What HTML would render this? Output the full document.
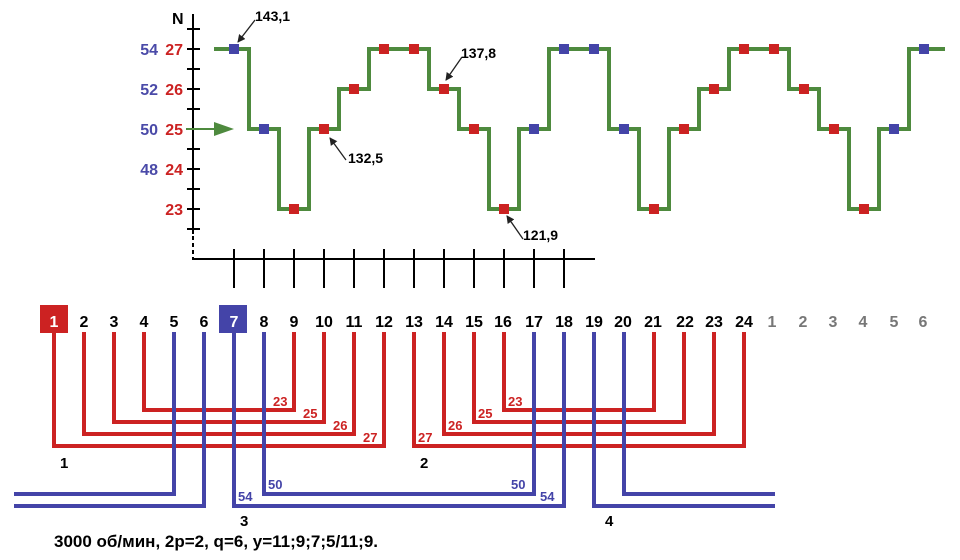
<!DOCTYPE html>
<html><head><meta charset="utf-8"><style>
html,body{margin:0;padding:0;background:#fff;}
svg{display:block;}
text{font-family:"Liberation Sans",Arial,sans-serif;font-weight:bold;}
</style></head><body>
<svg width="960" height="560" viewBox="0 0 960 560" xmlns="http://www.w3.org/2000/svg">
<defs>
<marker id="ah" markerWidth="8" markerHeight="8" refX="7" refY="4" orient="auto" markerUnits="userSpaceOnUse"><path d="M0,0 L8,4 L0,8 Z" fill="#222"/></marker>
</defs>
<!-- axes -->
<g stroke="#000" stroke-width="2" fill="none">
<line x1="193" y1="14" x2="193" y2="234"/>
<line x1="193" y1="236" x2="193" y2="259" stroke-dasharray="4,3"/>
<line x1="192" y1="259" x2="595" y2="259"/>
<path d="M187,29h13M187,49h13M187,69h13M187,89h13M187,109h13M187,129h13M187,149h13M187,169h13M187,189h13M187,209h13M187,229h13"/>
<path d="M234,249v39M264,249v39M294,249v39M324,249v39M354,249v39M384,249v39M414,249v39M444,249v39M474,249v39M504,249v39M534,249v39M564,249v39"/>
</g>
<text x="172" y="24" font-size="16">N</text>
<g font-size="16" text-anchor="end">
<text x="158" y="55" fill="#4a4aa8">54</text><text x="183" y="55" fill="#cc2222">27</text>
<text x="158" y="95" fill="#4a4aa8">52</text><text x="183" y="95" fill="#cc2222">26</text>
<text x="158" y="135" fill="#4a4aa8">50</text><text x="183" y="135" fill="#cc2222">25</text>
<text x="158" y="175" fill="#4a4aa8">48</text><text x="183" y="175" fill="#cc2222">24</text>
<text x="183" y="215" fill="#cc2222">23</text>
</g>
<!-- green arrow -->
<line x1="186" y1="129" x2="218" y2="129" stroke="#4e8a3e" stroke-width="2"/>
<path d="M214,122 L234,129 L214,136 Z" fill="#4e8a3e"/>
<!-- step wave -->
<path fill="none" stroke="#4e8a3e" stroke-width="4" d="M214,49 H249 V129 H279 V209 H309 V129 H339 V89 H369 V49 H429 V89 H459 V129 H489 V209 H519 V129 H549 V49 H609 V129 H639 V209 H669 V129 H699 V89 H729 V49 H789 V89 H819 V129 H849 V209 H879 V129 H909 V49 H945"/>
<g>
<rect x="229" y="44" width="10" height="10" fill="#4444a8"/>
<rect x="259" y="124" width="10" height="10" fill="#4444a8"/>
<rect x="289" y="204" width="10" height="10" fill="#cc2222"/>
<rect x="319" y="124" width="10" height="10" fill="#cc2222"/>
<rect x="349" y="84" width="10" height="10" fill="#cc2222"/>
<rect x="379" y="44" width="10" height="10" fill="#cc2222"/>
<rect x="409" y="44" width="10" height="10" fill="#cc2222"/>
<rect x="439" y="84" width="10" height="10" fill="#cc2222"/>
<rect x="469" y="124" width="10" height="10" fill="#cc2222"/>
<rect x="499" y="204" width="10" height="10" fill="#cc2222"/>
<rect x="529" y="124" width="10" height="10" fill="#4444a8"/>
<rect x="559" y="44" width="10" height="10" fill="#4444a8"/>
<rect x="589" y="44" width="10" height="10" fill="#4444a8"/>
<rect x="619" y="124" width="10" height="10" fill="#4444a8"/>
<rect x="649" y="204" width="10" height="10" fill="#cc2222"/>
<rect x="679" y="124" width="10" height="10" fill="#cc2222"/>
<rect x="709" y="84" width="10" height="10" fill="#cc2222"/>
<rect x="739" y="44" width="10" height="10" fill="#cc2222"/>
<rect x="769" y="44" width="10" height="10" fill="#cc2222"/>
<rect x="799" y="84" width="10" height="10" fill="#cc2222"/>
<rect x="829" y="124" width="10" height="10" fill="#cc2222"/>
<rect x="859" y="204" width="10" height="10" fill="#cc2222"/>
<rect x="889" y="124" width="10" height="10" fill="#4444a8"/>
<rect x="919" y="44" width="10" height="10" fill="#4444a8"/>
</g>
<!-- annotations -->
<g stroke="#222" stroke-width="1.3" marker-end="url(#ah)">
<line x1="255" y1="20" x2="238" y2="42"/>
<line x1="462" y1="57" x2="446" y2="80"/>
<line x1="346" y1="160" x2="330" y2="138"/>
<line x1="523" y1="239" x2="507" y2="216"/>
</g>
<g font-size="14" fill="#000">
<text x="255" y="21">143,1</text>
<text x="461" y="58">137,8</text>
<text x="348" y="163">132,5</text>
<text x="523" y="240">121,9</text>
</g>
<!-- slot numbers -->
<rect x="40" y="305" width="28" height="28" fill="#cc2222"/>
<rect x="219" y="305" width="28" height="28" fill="#4444a8"/>
<g font-size="16" text-anchor="middle" fill="#000">
<text x="54" y="327" fill="#fff">1</text><text x="84" y="327">2</text><text x="114" y="327">3</text><text x="144" y="327">4</text><text x="174" y="327">5</text><text x="204" y="327">6</text>
<text x="234" y="327" fill="#fff">7</text><text x="264" y="327">8</text><text x="294" y="327">9</text><text x="324" y="327">10</text><text x="354" y="327">11</text><text x="384" y="327">12</text>
<text x="414" y="327">13</text><text x="444" y="327">14</text><text x="474" y="327">15</text><text x="503" y="327">16</text><text x="534" y="327">17</text><text x="564" y="327">18</text>
<text x="594" y="327">19</text><text x="623" y="327">20</text><text x="653" y="327">21</text><text x="685" y="327">22</text><text x="714" y="327">23</text><text x="744" y="327">24</text>
<g fill="#777"><text x="772" y="327">1</text><text x="803" y="327">2</text><text x="833" y="327">3</text><text x="863" y="327">4</text><text x="894" y="327">5</text><text x="923" y="327">6</text></g>
</g>
<!-- red coils -->
<g fill="none" stroke="#cc2222" stroke-width="4">
<path d="M144,332 V410 H294 V332"/>
<path d="M114,332 V422 H324 V332"/>
<path d="M84,332 V434 H354 V332"/>
<path d="M54,332 V446 H384 V332"/>
<path d="M504,332 V410 H654 V332"/>
<path d="M474,332 V422 H684 V332"/>
<path d="M444,332 V434 H714 V332"/>
<path d="M414,332 V446 H744 V332"/>
</g>
<!-- blue coils -->
<g fill="none" stroke="#4444a8" stroke-width="4">
<path d="M14,494 H174 V332"/>
<path d="M14,506 H204 V332"/>
<path d="M234,332 V506 H564 V332"/>
<path d="M264,332 V494 H534 V332"/>
<path d="M594,332 V506 H775"/>
<path d="M624,332 V494 H775"/>
</g>
<g font-size="13" fill="#cc2222">
<text x="273" y="406">23</text><text x="303" y="418">25</text><text x="333" y="430">26</text><text x="363" y="442">27</text>
<text x="508" y="406">23</text><text x="478" y="418">25</text><text x="448" y="430">26</text><text x="418" y="442">27</text>
</g>
<g font-size="13" fill="#4444a8">
<text x="268" y="489">50</text><text x="238" y="501">54</text>
<text x="511" y="489">50</text><text x="540" y="501">54</text>
</g>
<g font-size="15" fill="#000">
<text x="60" y="468">1</text><text x="420" y="468">2</text><text x="240" y="526">3</text><text x="605" y="526">4</text>
</g>
<text x="54" y="547" font-size="17" fill="#000">3000 об/мин, 2р=2, q=6, y=11;9;7;5/11;9.</text>
</svg>
</body></html>
